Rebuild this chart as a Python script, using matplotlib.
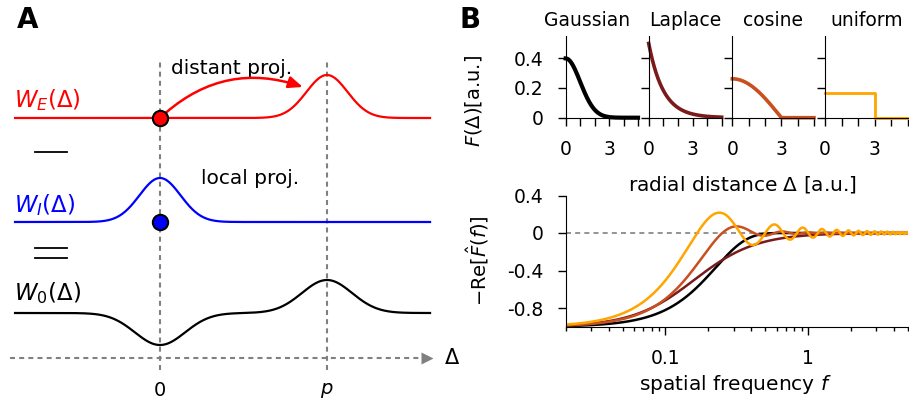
import numpy as np
import matplotlib.pyplot as plt
from matplotlib.patches import FancyArrowPatch

plt.rcParams['font.family'] = 'DejaVu Sans'
plt.rcParams['mathtext.fontset'] = 'dejavusans'
plt.rcParams['font.size'] = 14

W, H = 909, 409

# ---- panel A: schematic (x in units of Delta, 0 and p=1; y in pixel rows) ----
delta_marks = [0.0, 1.0]
delta_labels = ['0', '$p$']
row_labels = [r'$W_E(\Delta)$', r'$W_I(\Delta)$', r'$W_0(\Delta)$']
row_colors = ['red', 'blue', 'black']
row_base = [291, 187, 96]
row_bumps = [[(1.0, 43)], [(0.0, 44)], [(0.0, -32), (1.0, 33)]]
row_width = [0.123, 0.123, 0.15]
label_y = [309, 204, 116]

# ---- panel B: kernels ----
kernel_names = ['Gaussian', 'Laplace', 'cosine', 'uniform']
kernel_colors = ['black', '#7a1a1a', '#c8501e', '#ffa500']
kernel_lw = [3.0, 2.6, 2.6, 2.0]
sigma = 1.0        # Gaussian std
lap_b = 1.0        # Laplace scale
half_w = 3.0       # support of cosine / uniform

x_ticks = [0, 1, 2, 3, 4, 5]
x_ticklabels = ['0', '', '', '3', '', '']
y_ticks_top = [0, 0.2, 0.4]
y_ticklabels_top = ['0', '0.2', '0.4']
y_ticks_bot = [-0.8, -0.4, 0, 0.4]
y_ticklabels_bot = ['-0.8', '-0.4', '0', '0.4']
f_ticks = [0.1, 1]
f_ticklabels = ['0.1', '1']


def kernel(name, x):
    if name == 'Gaussian':
        return np.exp(-x**2 / (2 * sigma**2)) / np.sqrt(2 * np.pi * sigma**2)
    if name == 'Laplace':
        return np.exp(-np.abs(x) / lap_b) / (2 * lap_b)
    if name == 'cosine':
        return np.where(x < half_w, np.pi / (4 * half_w) * np.cos(np.pi * x / (2 * half_w)), 0.0)
    return np.where(x < half_w, 1 / (2 * half_w), 0.0)


def kernel_ft(name, f):
    w = 2 * np.pi * f
    if name == 'Gaussian':
        return np.exp(-(w * sigma)**2 / 2)
    if name == 'Laplace':
        return 1 / (1 + (w * lap_b)**2)
    if name == 'cosine':
        k = np.pi / (2 * half_w)
        return np.cos(w * half_w) / (1 - (w / k)**2)
    return np.sinc(2 * f * half_w)


fig = plt.figure(figsize=(W / 100, H / 100), dpi=100)

# panel A
axA = fig.add_axes([0, 0, 455 / W, 1])
axA.set_xlim(-160 / 167, (455 - 160) / 167)
axA.set_ylim(0, H)
axA.axis('off')

xs = np.linspace(-0.868, 1.617, 600)
for base, bumps, wid, col, lab, ly in zip(row_base, row_bumps, row_width,
                                          row_colors, row_labels, label_y):
    y = np.full_like(xs, base, dtype=float)
    for c, a in bumps:
        y += a * np.exp(-(xs - c)**2 / (2 * wid**2))
    axA.plot(xs, y, color=col, lw=1.6, zorder=3)
    axA.text(-0.875, ly, lab, color=col, fontsize=16.5, ha='left', va='center')

for d, lab in zip(delta_marks, delta_labels):
    axA.plot([d, d], [39, 347], color='grey', lw=1.5, dashes=(2.4, 2), zorder=1)
    axA.text(d, 18, lab, ha='center', va='center', fontsize=14)

axA.plot([-0.898, 1.60], [51, 51], color='grey', lw=1.5, dashes=(2.4, 2))
axA.plot([1.60], [51], marker='>', color='grey', ms=8, mec='none')
axA.text(1.70, 51, r'$\Delta$', ha='left', va='center', fontsize=15)

axA.plot([0], [row_base[0]], 'o', ms=11, mfc='red', mec='black', mew=1.5, zorder=5)
axA.plot([0], [row_base[1]], 'o', ms=11, mfc='blue', mec='black', mew=1.5, zorder=5)

arr = FancyArrowPatch((0.0, row_base[0]), (0.855, 322), connectionstyle='arc3,rad=-0.3',
                      arrowstyle='-|>,head_length=0.6,head_width=0.25', mutation_scale=14,
                      color='red', lw=1.8, shrinkA=6, shrinkB=0, zorder=4)
axA.add_patch(arr)
axA.text(0.43, 341, 'distant proj.', ha='center', va='center', fontsize=14.5)
axA.text(0.54, 231, 'local proj.', ha='center', va='center', fontsize=14.5)

# minus and equal signs between the rows
axA.plot([-0.749, -0.557], [257, 257], color='black', lw=1.3)
axA.plot([-0.749, -0.557], [161, 161], color='black', lw=1.3)
axA.plot([-0.749, -0.557], [151, 151], color='black', lw=1.3)

fig.text(17 / W, 1 - 20 / H, 'A', fontsize=20, fontweight='bold', va='center')
fig.text(460 / W, 1 - 20 / H, 'B', fontsize=20, fontweight='bold', va='center')

# panel B top row
top_pos = [[565.7, 72.3], [648.7, 73.0], [732.3, 81.7], [825.0, 83.0]]
title_x = [0.29, 0.5, 0.5, 0.5]
xk = np.linspace(0, 5, 800)
for i, (name, col, lw, (x0, wd)) in enumerate(zip(kernel_names, kernel_colors, kernel_lw, top_pos)):
    ax = fig.add_axes([x0 / W, 1 - 117.7 / H, wd / W, 81.7 / H])
    if name == 'uniform':
        xu = np.array([0, half_w, half_w, 5])
        ax.plot(xu, [1 / (2 * half_w), 1 / (2 * half_w), 0, 0], color=col, lw=lw, clip_on=False)
    else:
        ax.plot(xk, kernel(name, xk), color=col, lw=lw, clip_on=False)
    ax.set_xlim(0, 5)
    ax.set_ylim(0, 0.55)
    ax.set_xticks(x_ticks)
    ax.set_xticklabels(x_ticklabels)
    ax.set_yticks(y_ticks_top)
    ax.set_yticklabels(y_ticklabels_top if i == 0 else [])
    ax.spines[['top', 'right']].set_visible(False)
    ax.tick_params(length=6, width=1, pad=10, labelsize=13.5)
    ax.set_title(name, fontsize=13.5, pad=7, x=title_x[i])

fig.text(473 / W, 1 - 101 / H, r'$F(\Delta)$[a.u.]', rotation=90, ha='center', va='center')
fig.text(742 / W, 1 - 185 / H, r'radial distance $\Delta$ [a.u.]', ha='center', va='center',
         fontsize=14.5)

# panel B bottom
axF = fig.add_axes([565.7 / W, 1 - 326.75 / H, 342.3 / W, 131.25 / H])
ff = np.logspace(np.log10(0.02), np.log10(5), 4000)
axF.axhline(0, color='grey', lw=1.2, dashes=(3, 2.5))
for name, col in zip(kernel_names, kernel_colors):
    axF.plot(ff, -kernel_ft(name, ff), color=col, lw=1.8)
axF.set_xscale('log')
axF.set_xlim(0.02, 5)
axF.set_ylim(-1, 0.4)
axF.set_xticks(f_ticks)
axF.set_xticklabels(f_ticklabels)
axF.set_yticks(y_ticks_bot)
axF.set_yticklabels(y_ticklabels_bot)
axF.spines[['top', 'right']].set_visible(False)
axF.tick_params(which='major', length=6, width=1, pad=10, labelsize=13.5)
axF.tick_params(which='minor', length=3, width=1)
fig.text(478 / W, 1 - 261 / H, r'$-\mathrm{Re}[\hat{F}(f)]$', rotation=90, ha='center', va='center')
fig.text(735 / W, 1 - 385 / H, r'spatial frequency $f$', ha='center', va='center', fontsize=14.5)

fig.savefig('out.png', dpi=100)
